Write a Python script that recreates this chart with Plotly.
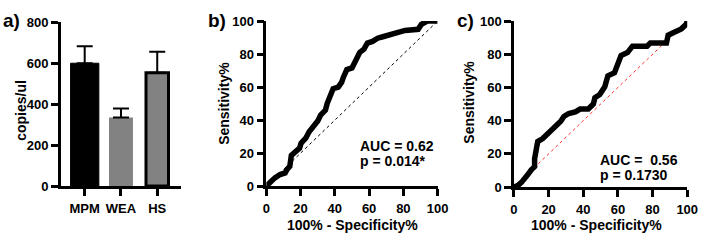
import plotly.graph_objects as go

W, H = 709, 241

# ---- data ----
groups = ["MPM", "WEA", "HS"]
copies_mean = [599, 335, 553]
copies_err = [83, 43, 102]

roc_b_fpr = [0, 2.3, 5, 8, 11, 12, 13.7, 14.6, 16.5, 19.4, 20.3, 23, 25, 28, 30, 31.7, 34.5, 35.5,
             37.4, 39, 42, 44, 45, 47, 50, 51.6, 53.5, 54.5, 57, 59, 62, 65, 68, 71.5, 77, 81,
             88.6, 90.5, 94, 100]
roc_b_sens = [0, 2.5, 5, 7, 8, 10, 12, 18.6, 20.5, 23, 26, 29, 33, 36.5, 39.4, 43, 46, 50,
              54.5, 59, 60, 63, 66, 70.6, 71.6, 74.4, 78, 81, 83, 86.7, 87.7, 89.6, 90.5, 91.5,
              92.4, 94.3, 95, 98, 100, 100]

roc_c_fpr = [0, 2.4, 4.3, 6.2, 8, 10, 11.9, 11.9, 12.8, 13.7, 16.6, 19.4, 22.2, 25, 27, 28.8,
             31.6, 35.4, 38.2, 42.9, 45.8, 46.7, 49.5, 52.4, 54.2, 58, 59.9, 61.8, 65.5, 68.4,
             76.8, 78.7, 88, 89, 92.8, 96.6, 99.4, 100]
roc_c_sens = [0, 1, 2.8, 4.7, 7.5, 10.4, 12.3, 17, 21.7, 27.4, 29.2, 32, 34, 36.8, 39.6, 42.5,
              44.3, 45.3, 47, 47, 50, 53.8, 55.7, 60.4, 67, 68.9, 74.5, 79.2, 81, 84.9, 84.9,
              86.8, 86.8, 91.5, 93.4, 95.3, 98, 100]

diag_b = [0, 100]
diag_c = [14, 87]

auc_b = ["AUC = 0.62", "p = 0.014*"]
auc_c = ["AUC =  0.56", "p = 0.1730"]

# ---- helpers for layout positions ----
def px(x):
    return x / W

def py(y):
    return 1 - y / H

FONT = dict(family="Liberation Sans, Arial, sans-serif", size=14, color="black", weight="bold")
TICKFONT = dict(FONT, size=13)

fig = go.Figure()

fig.add_trace(go.Bar(
    x=groups, y=copies_mean, xaxis="x", yaxis="y",
    width=[0.78, 0.66, 0.62],
    marker=dict(color=["#000000", "#828282", "#828282"],
                line=dict(color=["#000000", "#828282", "#000000"], width=[1, 0, 3])),
    error_y=dict(type="data", symmetric=False, array=copies_err, arrayminus=[0, 0, 0],
                 color="black", thickness=2, width=8),
    showlegend=False,
))

fig.add_trace(go.Scatter(x=diag_b, y=diag_b, xaxis="x2", yaxis="y2", mode="lines",
                         line=dict(color="black", width=1, dash="dot"), showlegend=False))
fig.add_trace(go.Scatter(x=roc_b_fpr, y=roc_b_sens, xaxis="x2", yaxis="y2", mode="lines",
                         line=dict(color="black", width=5.5), cliponaxis=False, showlegend=False))

fig.add_trace(go.Scatter(x=diag_c, y=diag_c, xaxis="x3", yaxis="y3", mode="lines",
                         line=dict(color="#ff3030", width=1, dash="dot"), showlegend=False))
fig.add_trace(go.Scatter(x=roc_c_fpr, y=roc_c_sens, xaxis="x3", yaxis="y3", mode="lines",
                         line=dict(color="black", width=5.5), cliponaxis=False, showlegend=False))

axis_common = dict(showline=True, linecolor="black", linewidth=2.5, showgrid=False,
                   zeroline=False, ticks="outside", ticklen=7, tickwidth=2.5, tickcolor="black",
                   tickfont=TICKFONT, fixedrange=True)
x_extra = dict(ticklabelstandoff=2)

fig.update_layout(
    width=W, height=H,
    margin=dict(l=0, r=0, t=0, b=0),
    paper_bgcolor="white", plot_bgcolor="white",
    xaxis=dict(domain=[px(58), px(181)], range=[-0.66, 2.66], anchor="y",
               **axis_common, **x_extra),
    yaxis=dict(domain=[py(191), py(16)], range=[0, 800], tickvals=[0, 200, 400, 600, 800],
               anchor="x", **axis_common),
    xaxis2=dict(domain=[px(268), px(443)], range=[0, 100], tickvals=[0, 20, 40, 60, 80, 100],
                anchor="y2", **axis_common, **x_extra),
    yaxis2=dict(domain=[py(191), py(15)], range=[0, 100], tickvals=[0, 20, 40, 60, 80, 100],
                anchor="x2", **axis_common),
    xaxis3=dict(domain=[px(521), px(698)], range=[0, 100], tickvals=[0, 20, 40, 60, 80, 100],
                anchor="y3", **axis_common, **x_extra),
    yaxis3=dict(domain=[py(192), py(15)], range=[0, 100], tickvals=[0, 20, 40, 60, 80, 100],
                anchor="x3", **axis_common),
)

def ann(text, x, y, size=14, angle=0, xanchor="center"):
    fig.add_annotation(text=text, x=px(x), y=py(y), xref="paper", yref="paper",
                       showarrow=False, textangle=angle, xanchor=xanchor, yanchor="middle",
                       font=dict(FONT, size=size))

# axis titles
ann("copies/ul", 18, 110, angle=-90)
ann("Sensitivity%", 224, 103, angle=-90)
ann("Sensitivity%", 475, 101, angle=-90)
ann("100% - Specificity%", 356, 232)
ann("100% - Specificity%", 605, 232)

# panel labels
ann("a)", 8, 14, size=19)
ann("b)", 218, 14, size=19)
ann("c)", 471, 14, size=19)

# stats text
ann(auc_b[0], 362, 148, xanchor="left")
ann(auc_b[1], 362, 164, xanchor="left")
ann(auc_c[0], 607, 163, xanchor="left")
ann(auc_c[1], 607, 179, xanchor="left")

fig.write_html("out.html", config={"displayModeBar": False},
               post_script="document.body.style.margin='0';")
